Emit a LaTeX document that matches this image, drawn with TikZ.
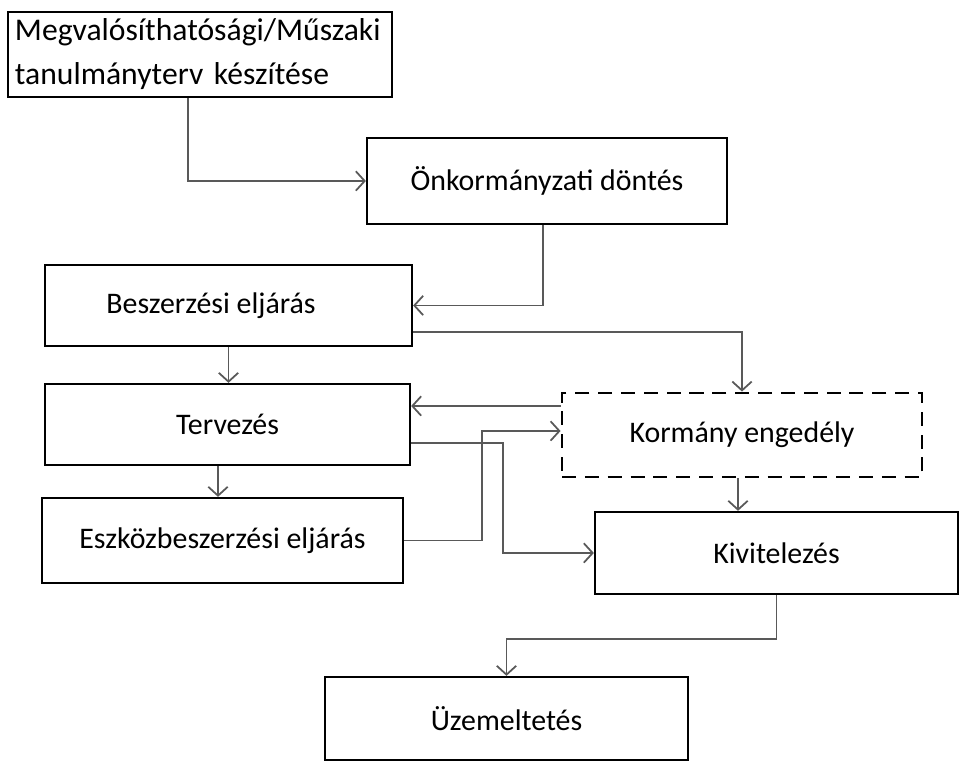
\documentclass[tikz,border=0pt]{standalone}
\usepackage{fontspec}
\setmainfont{Carlito}
\usepackage{tikz}
\usetikzlibrary{arrows.meta}

\tikzset{
  box/.style={draw,line width=1.3pt,minimum height=1.66cm,minimum width=7.26cm,
    font=\fontsize{17}{21}\selectfont},
  dashbox/.style={box,dash pattern=on 8pt off 5pt,line width=1.6pt},
  flow/.style={-{Straight Barb[length=5pt,width=11pt]},draw=black!65,line width=1pt}
}

\begin{document}
\begin{tikzpicture}
    \useasboundingbox (0,0) rectangle (19.24,15.28);

    \node (megv) at (4.0,14.19) [box,minimum height=1.7cm,text width=7.4cm,inner xsep=0.14cm,align=left,
      font=\fontsize{18}{25}\selectfont]
      {Megvalósíthatósági/Műszaki\\tanulmányterv készítése};
    \node (onk) at (10.94,11.66) [box,minimum width=7.2cm,minimum height=1.72cm] {Önkormányzati döntés};
    \node (besz) at (4.57,9.17) [box,minimum width=7.34cm,minimum height=1.62cm] {\hspace*{-0.7cm}Beszerzési eljárás};
    \node (terv) at (4.55,6.79) [box,minimum width=7.3cm,minimum height=1.62cm] {Tervezés};
    \node (korm) at (14.84,6.58) [dashbox,minimum width=7.2cm,minimum height=1.68cm] {Kormány engedély};
    \node (eszk) at (4.45,4.47) [box,minimum width=7.22cm,minimum height=1.7cm] {Eszközbeszerzési eljárás};
    \node (kivit) at (15.53,4.22) [box,minimum height=1.64cm] {Kivitelezés};
    \node (uzem) at (10.13,0.91) [box] {Üzemeltetés};

    \draw [flow] ([xshift=-0.24cm]megv.south) |- (onk.west);
    \draw [flow] ([xshift=-0.08cm]onk.south) |- (besz.east);
    \draw [flow] (besz.south) -- (besz.south |- terv.north);
    \draw [flow] ([yshift=-0.53cm]besz.east) -| (korm.north);

    \coordinate (kormin) at ([yshift=0.58cm]korm.west);
    \draw [flow] (kormin) -- (kormin -| terv.east);
    \draw [flow] (eszk.east) -- ++(1.56,0) |- ([yshift=0.08cm]korm.west);
    \draw [flow] ([yshift=-0.37cm]terv.east) -- ++(1.84,0) |- (kivit.west);

    \draw [flow] ([xshift=-0.19cm]terv.south) -- ([xshift=-0.19cm]terv.south |- eszk.north);
    \draw [flow] ([xshift=-0.08cm]korm.south) -- ([xshift=-0.08cm]korm.south |- kivit.north);
    \draw [flow] (kivit.south) -- ++(0,-0.88) -| (uzem.north);
\end{tikzpicture}
\end{document}
